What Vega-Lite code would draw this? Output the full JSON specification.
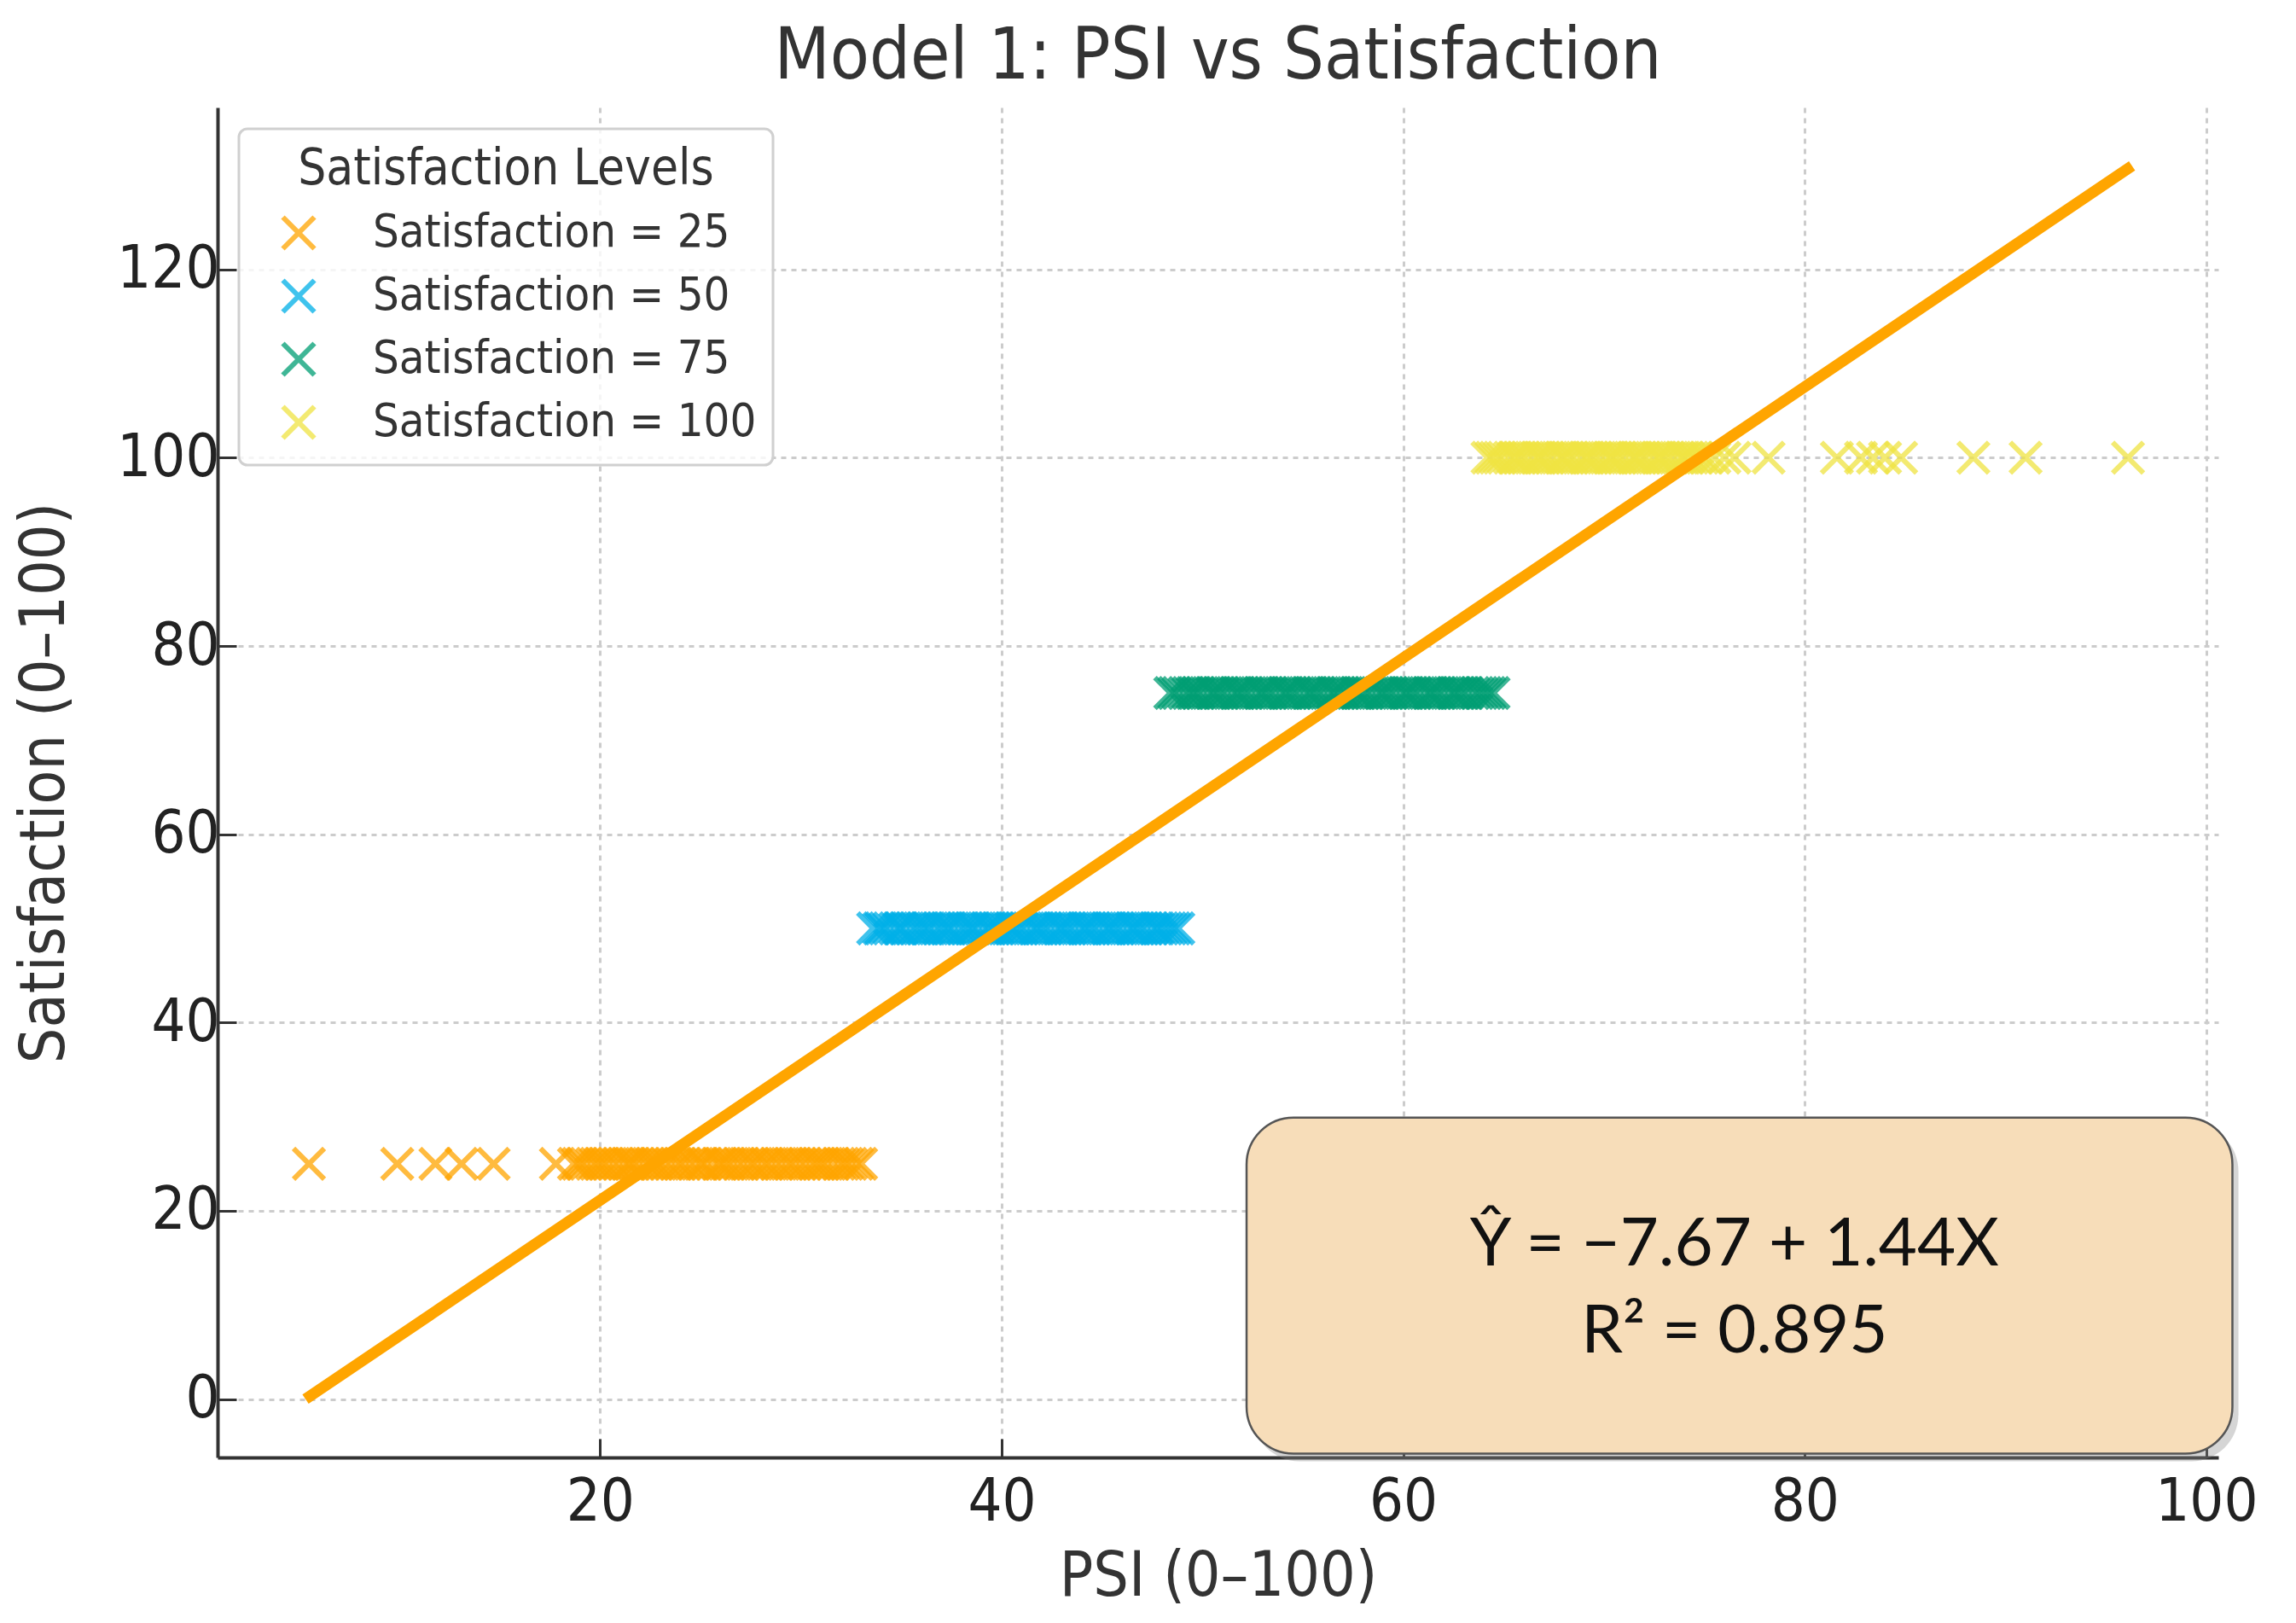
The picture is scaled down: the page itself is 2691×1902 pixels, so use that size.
{
  "$schema": "https://vega.github.io/schema/vega-lite/v6.json",
  "width": 2345,
  "height": 1582,
  "autosize": {"type": "none"},
  "padding": {"left": 255, "top": 126, "right": 91, "bottom": 194},
  "background": "white",
  "title": {
    "text": "Model 1: PSI vs Satisfaction",
    "fontSize": 84,
    "font": "'DejaVu Sans Condensed', 'DejaVu Sans', sans-serif",
    "fontWeight": "normal",
    "color": "#333333",
    "anchor": "middle",
    "baseline": "bottom",
    "offset": -68
  },
  "config": {
    "view": {"stroke": null},
    "font": "'DejaVu Sans Condensed', 'DejaVu Sans', sans-serif",
    "axis": {
      "labelFont": "'DejaVu Sans Condensed', 'DejaVu Sans', sans-serif",
      "titleFont": "'DejaVu Sans Condensed', 'DejaVu Sans', sans-serif",
      "labelFontSize": 70,
      "titleFontSize": 73,
      "labelColor": "#222222",
      "titleColor": "#333333",
      "titleFontWeight": "normal",
      "domainColor": "#333333",
      "domainWidth": 4,
      "tickColor": "#333333",
      "tickWidth": 3,
      "tickSize": -22,
      "gridColor": "#cccccc",
      "gridWidth": 3,
      "gridDash": [6, 6]
    },
    "axisX": {"labelPadding": 40, "titlePadding": 16},
    "axisY": {"labelPadding": 20, "titlePadding": 47},
    "legend": {
      "orient": "top-left",
      "offset": 25,
      "padding": 19,
      "strokeColor": "#d0d0d0",
      "strokeWidth": 3,
      "cornerRadius": 10,
      "fillColor": "rgba(255,255,255,0.8)",
      "titleFont": "'DejaVu Sans Condensed', 'DejaVu Sans', sans-serif",
      "titleFontSize": 58,
      "titleFontWeight": "normal",
      "titleColor": "#333333",
      "titleAnchor": "middle",
      "titleAlign": "center",
      "titlePadding": 18,
      "titleLimit": 2000,
      "labelFont": "'DejaVu Sans Condensed', 'DejaVu Sans', sans-serif",
      "labelFontSize": 54,
      "labelColor": "#333333",
      "labelOffset": 60,
      "labelLimit": 2000,
      "rowPadding": 12,
      "symbolOffset": 24,
      "symbolSize": 1369,
      "symbolStrokeWidth": 6
    }
  },
  "layer": [
    {
      "data": {
        "values": [
          {"psi": 5.5, "satisfaction": 25}, {"psi": 9.9, "satisfaction": 25}, {"psi": 11.8, "satisfaction": 25}, {"psi": 13.1, "satisfaction": 25}, {"psi": 14.7, "satisfaction": 25},
          {"psi": 17.8, "satisfaction": 25}, {"psi": 18.7, "satisfaction": 25}, {"psi": 18.9, "satisfaction": 25}, {"psi": 19.1, "satisfaction": 25}, {"psi": 19.3, "satisfaction": 25},
          {"psi": 19.6, "satisfaction": 25}, {"psi": 19.8, "satisfaction": 25}, {"psi": 20.0, "satisfaction": 25}, {"psi": 20.2, "satisfaction": 25}, {"psi": 20.4, "satisfaction": 25},
          {"psi": 20.7, "satisfaction": 25}, {"psi": 20.9, "satisfaction": 25}, {"psi": 21.2, "satisfaction": 25}, {"psi": 21.4, "satisfaction": 25}, {"psi": 21.5, "satisfaction": 25},
          {"psi": 21.7, "satisfaction": 25}, {"psi": 21.9, "satisfaction": 25}, {"psi": 22.2, "satisfaction": 25}, {"psi": 22.4, "satisfaction": 25}, {"psi": 22.6, "satisfaction": 25},
          {"psi": 22.8, "satisfaction": 25}, {"psi": 23.0, "satisfaction": 25}, {"psi": 23.3, "satisfaction": 25}, {"psi": 23.5, "satisfaction": 25}, {"psi": 23.8, "satisfaction": 25},
          {"psi": 24.0, "satisfaction": 25}, {"psi": 24.2, "satisfaction": 25}, {"psi": 24.5, "satisfaction": 25}, {"psi": 24.7, "satisfaction": 25}, {"psi": 25.0, "satisfaction": 25},
          {"psi": 25.1, "satisfaction": 25}, {"psi": 25.3, "satisfaction": 25}, {"psi": 25.6, "satisfaction": 25}, {"psi": 25.9, "satisfaction": 25}, {"psi": 26.0, "satisfaction": 25},
          {"psi": 26.2, "satisfaction": 25}, {"psi": 26.4, "satisfaction": 25}, {"psi": 26.6, "satisfaction": 25}, {"psi": 26.9, "satisfaction": 25}, {"psi": 27.1, "satisfaction": 25},
          {"psi": 27.4, "satisfaction": 25}, {"psi": 27.6, "satisfaction": 25}, {"psi": 27.8, "satisfaction": 25}, {"psi": 28.1, "satisfaction": 25}, {"psi": 28.3, "satisfaction": 25},
          {"psi": 28.5, "satisfaction": 25}, {"psi": 28.8, "satisfaction": 25}, {"psi": 29.0, "satisfaction": 25}, {"psi": 29.3, "satisfaction": 25}, {"psi": 29.5, "satisfaction": 25},
          {"psi": 29.7, "satisfaction": 25}, {"psi": 30.0, "satisfaction": 25}, {"psi": 30.2, "satisfaction": 25}, {"psi": 30.5, "satisfaction": 25}, {"psi": 30.7, "satisfaction": 25},
          {"psi": 30.9, "satisfaction": 25}, {"psi": 31.1, "satisfaction": 25}, {"psi": 31.3, "satisfaction": 25}, {"psi": 31.6, "satisfaction": 25}, {"psi": 31.9, "satisfaction": 25},
          {"psi": 32.1, "satisfaction": 25}, {"psi": 32.3, "satisfaction": 25}, {"psi": 32.5, "satisfaction": 25}, {"psi": 32.8, "satisfaction": 25}, {"psi": 33.0, "satisfaction": 25},
          {"psi": 33.6, "satisfaction": 50}, {"psi": 33.9, "satisfaction": 50}, {"psi": 34.0, "satisfaction": 50}, {"psi": 34.2, "satisfaction": 50}, {"psi": 34.4, "satisfaction": 50},
          {"psi": 34.7, "satisfaction": 50}, {"psi": 34.9, "satisfaction": 50}, {"psi": 35.0, "satisfaction": 50}, {"psi": 35.2, "satisfaction": 50}, {"psi": 35.5, "satisfaction": 50},
          {"psi": 35.7, "satisfaction": 50}, {"psi": 35.9, "satisfaction": 50}, {"psi": 36.1, "satisfaction": 50}, {"psi": 36.3, "satisfaction": 50}, {"psi": 36.4, "satisfaction": 50},
          {"psi": 36.7, "satisfaction": 50}, {"psi": 36.9, "satisfaction": 50}, {"psi": 37.1, "satisfaction": 50}, {"psi": 37.3, "satisfaction": 50}, {"psi": 37.4, "satisfaction": 50},
          {"psi": 37.6, "satisfaction": 50}, {"psi": 37.9, "satisfaction": 50}, {"psi": 38.1, "satisfaction": 50}, {"psi": 38.3, "satisfaction": 50}, {"psi": 38.5, "satisfaction": 50},
          {"psi": 38.6, "satisfaction": 50}, {"psi": 38.8, "satisfaction": 50}, {"psi": 39.1, "satisfaction": 50}, {"psi": 39.3, "satisfaction": 50}, {"psi": 39.4, "satisfaction": 50},
          {"psi": 39.6, "satisfaction": 50}, {"psi": 39.8, "satisfaction": 50}, {"psi": 40.0, "satisfaction": 50}, {"psi": 40.3, "satisfaction": 50}, {"psi": 40.5, "satisfaction": 50},
          {"psi": 40.6, "satisfaction": 50}, {"psi": 40.8, "satisfaction": 50}, {"psi": 41.0, "satisfaction": 50}, {"psi": 41.2, "satisfaction": 50}, {"psi": 41.5, "satisfaction": 50},
          {"psi": 41.7, "satisfaction": 50}, {"psi": 41.8, "satisfaction": 50}, {"psi": 42.0, "satisfaction": 50}, {"psi": 42.2, "satisfaction": 50}, {"psi": 42.4, "satisfaction": 50},
          {"psi": 42.7, "satisfaction": 50}, {"psi": 42.9, "satisfaction": 50}, {"psi": 43.0, "satisfaction": 50}, {"psi": 43.2, "satisfaction": 50}, {"psi": 43.4, "satisfaction": 50},
          {"psi": 43.6, "satisfaction": 50}, {"psi": 43.9, "satisfaction": 50}, {"psi": 44.1, "satisfaction": 50}, {"psi": 44.2, "satisfaction": 50}, {"psi": 44.4, "satisfaction": 50},
          {"psi": 44.6, "satisfaction": 50}, {"psi": 44.8, "satisfaction": 50}, {"psi": 45.1, "satisfaction": 50}, {"psi": 45.3, "satisfaction": 50}, {"psi": 45.4, "satisfaction": 50},
          {"psi": 45.6, "satisfaction": 50}, {"psi": 45.8, "satisfaction": 50}, {"psi": 46.0, "satisfaction": 50}, {"psi": 46.3, "satisfaction": 50}, {"psi": 46.5, "satisfaction": 50},
          {"psi": 46.6, "satisfaction": 50}, {"psi": 46.8, "satisfaction": 50}, {"psi": 47.0, "satisfaction": 50}, {"psi": 47.2, "satisfaction": 50}, {"psi": 47.5, "satisfaction": 50},
          {"psi": 47.7, "satisfaction": 50}, {"psi": 47.8, "satisfaction": 50}, {"psi": 48.0, "satisfaction": 50}, {"psi": 48.2, "satisfaction": 50}, {"psi": 48.4, "satisfaction": 50},
          {"psi": 48.6, "satisfaction": 50}, {"psi": 48.8, "satisfaction": 50},
          {"psi": 48.4, "satisfaction": 75}, {"psi": 48.6, "satisfaction": 75}, {"psi": 48.8, "satisfaction": 75}, {"psi": 49.1, "satisfaction": 75}, {"psi": 49.3, "satisfaction": 75},
          {"psi": 49.5, "satisfaction": 75}, {"psi": 49.6, "satisfaction": 75}, {"psi": 49.8, "satisfaction": 75}, {"psi": 50.0, "satisfaction": 75}, {"psi": 50.3, "satisfaction": 75},
          {"psi": 50.5, "satisfaction": 75}, {"psi": 50.6, "satisfaction": 75}, {"psi": 50.8, "satisfaction": 75}, {"psi": 51.0, "satisfaction": 75}, {"psi": 51.2, "satisfaction": 75},
          {"psi": 51.5, "satisfaction": 75}, {"psi": 51.7, "satisfaction": 75}, {"psi": 51.8, "satisfaction": 75}, {"psi": 52.0, "satisfaction": 75}, {"psi": 52.2, "satisfaction": 75},
          {"psi": 52.4, "satisfaction": 75}, {"psi": 52.7, "satisfaction": 75}, {"psi": 52.9, "satisfaction": 75}, {"psi": 53.0, "satisfaction": 75}, {"psi": 53.2, "satisfaction": 75},
          {"psi": 53.4, "satisfaction": 75}, {"psi": 53.6, "satisfaction": 75}, {"psi": 53.9, "satisfaction": 75}, {"psi": 54.1, "satisfaction": 75}, {"psi": 54.2, "satisfaction": 75},
          {"psi": 54.4, "satisfaction": 75}, {"psi": 54.6, "satisfaction": 75}, {"psi": 54.8, "satisfaction": 75}, {"psi": 55.1, "satisfaction": 75}, {"psi": 55.3, "satisfaction": 75},
          {"psi": 55.4, "satisfaction": 75}, {"psi": 55.6, "satisfaction": 75}, {"psi": 55.8, "satisfaction": 75}, {"psi": 56.0, "satisfaction": 75}, {"psi": 56.3, "satisfaction": 75},
          {"psi": 56.5, "satisfaction": 75}, {"psi": 56.6, "satisfaction": 75}, {"psi": 56.8, "satisfaction": 75}, {"psi": 57.0, "satisfaction": 75}, {"psi": 57.2, "satisfaction": 75},
          {"psi": 57.5, "satisfaction": 75}, {"psi": 57.7, "satisfaction": 75}, {"psi": 57.8, "satisfaction": 75}, {"psi": 58.0, "satisfaction": 75}, {"psi": 58.2, "satisfaction": 75},
          {"psi": 58.4, "satisfaction": 75}, {"psi": 58.7, "satisfaction": 75}, {"psi": 58.9, "satisfaction": 75}, {"psi": 59.0, "satisfaction": 75}, {"psi": 59.2, "satisfaction": 75},
          {"psi": 59.4, "satisfaction": 75}, {"psi": 59.6, "satisfaction": 75}, {"psi": 59.9, "satisfaction": 75}, {"psi": 60.1, "satisfaction": 75}, {"psi": 60.2, "satisfaction": 75},
          {"psi": 60.4, "satisfaction": 75}, {"psi": 60.6, "satisfaction": 75}, {"psi": 60.8, "satisfaction": 75}, {"psi": 61.1, "satisfaction": 75}, {"psi": 61.3, "satisfaction": 75},
          {"psi": 61.4, "satisfaction": 75}, {"psi": 61.6, "satisfaction": 75}, {"psi": 61.8, "satisfaction": 75}, {"psi": 62.0, "satisfaction": 75}, {"psi": 62.3, "satisfaction": 75},
          {"psi": 62.5, "satisfaction": 75}, {"psi": 62.6, "satisfaction": 75}, {"psi": 62.8, "satisfaction": 75}, {"psi": 63.0, "satisfaction": 75}, {"psi": 63.2, "satisfaction": 75},
          {"psi": 63.5, "satisfaction": 75}, {"psi": 63.7, "satisfaction": 75}, {"psi": 63.9, "satisfaction": 75}, {"psi": 64.1, "satisfaction": 75}, {"psi": 64.3, "satisfaction": 75},
          {"psi": 64.5, "satisfaction": 75},
          {"psi": 64.2, "satisfaction": 100}, {"psi": 64.4, "satisfaction": 100}, {"psi": 64.6, "satisfaction": 100}, {"psi": 64.8, "satisfaction": 100}, {"psi": 65.0, "satisfaction": 100},
          {"psi": 65.3, "satisfaction": 100}, {"psi": 65.5, "satisfaction": 100}, {"psi": 65.6, "satisfaction": 100}, {"psi": 65.8, "satisfaction": 100}, {"psi": 66.0, "satisfaction": 100},
          {"psi": 66.2, "satisfaction": 100}, {"psi": 66.5, "satisfaction": 100}, {"psi": 66.7, "satisfaction": 100}, {"psi": 66.8, "satisfaction": 100}, {"psi": 67.0, "satisfaction": 100},
          {"psi": 67.2, "satisfaction": 100}, {"psi": 67.4, "satisfaction": 100}, {"psi": 67.7, "satisfaction": 100}, {"psi": 67.9, "satisfaction": 100}, {"psi": 68.0, "satisfaction": 100},
          {"psi": 68.2, "satisfaction": 100}, {"psi": 68.4, "satisfaction": 100}, {"psi": 68.6, "satisfaction": 100}, {"psi": 68.9, "satisfaction": 100}, {"psi": 69.1, "satisfaction": 100},
          {"psi": 69.2, "satisfaction": 100}, {"psi": 69.4, "satisfaction": 100}, {"psi": 69.6, "satisfaction": 100}, {"psi": 69.8, "satisfaction": 100}, {"psi": 70.1, "satisfaction": 100},
          {"psi": 70.3, "satisfaction": 100}, {"psi": 70.4, "satisfaction": 100}, {"psi": 70.6, "satisfaction": 100}, {"psi": 70.8, "satisfaction": 100}, {"psi": 71.0, "satisfaction": 100},
          {"psi": 71.3, "satisfaction": 100}, {"psi": 71.5, "satisfaction": 100}, {"psi": 71.6, "satisfaction": 100}, {"psi": 71.8, "satisfaction": 100}, {"psi": 72.0, "satisfaction": 100},
          {"psi": 72.2, "satisfaction": 100}, {"psi": 72.5, "satisfaction": 100}, {"psi": 72.7, "satisfaction": 100}, {"psi": 72.8, "satisfaction": 100}, {"psi": 73.0, "satisfaction": 100},
          {"psi": 73.2, "satisfaction": 100}, {"psi": 73.4, "satisfaction": 100}, {"psi": 73.7, "satisfaction": 100}, {"psi": 73.9, "satisfaction": 100}, {"psi": 74.0, "satisfaction": 100},
          {"psi": 74.2, "satisfaction": 100}, {"psi": 74.4, "satisfaction": 100}, {"psi": 74.6, "satisfaction": 100}, {"psi": 74.9, "satisfaction": 100}, {"psi": 75.1, "satisfaction": 100},
          {"psi": 75.5, "satisfaction": 100}, {"psi": 76.0, "satisfaction": 100}, {"psi": 76.5, "satisfaction": 100}, {"psi": 78.2, "satisfaction": 100}, {"psi": 81.6, "satisfaction": 100},
          {"psi": 82.8, "satisfaction": 100}, {"psi": 83.4, "satisfaction": 100}, {"psi": 84.0, "satisfaction": 100}, {"psi": 84.8, "satisfaction": 100}, {"psi": 88.4, "satisfaction": 100},
          {"psi": 91.0, "satisfaction": 100}, {"psi": 96.1, "satisfaction": 100}
        ]
      },
      "mark": {
        "type": "point",
        "shape": "M-1,-1L1,1M-1,1L1,-1",
        "filled": false,
        "strokeWidth": 6,
        "size": 1300,
        "opacity": 0.75
      },
      "encoding": {
        "x": {
          "field": "psi",
          "type": "quantitative",
          "title": "PSI (0–100)",
          "scale": {"domain": [0.95, 100.6], "nice": false, "zero": false},
          "axis": {"values": [20, 40, 60, 80, 100], "grid": true}
        },
        "y": {
          "field": "satisfaction",
          "type": "quantitative",
          "title": "Satisfaction (0–100)",
          "scale": {"domain": [-6.2, 137.2], "nice": false, "zero": false},
          "axis": {"values": [0, 20, 40, 60, 80, 100, 120], "grid": true}
        },
        "color": {
          "field": "satisfaction",
          "type": "nominal",
          "scale": {
            "domain": [25, 50, 75, 100],
            "range": ["#FFA500", "#00B0E8", "#009E73", "#F0E442"]
          },
          "legend": {
            "title": "Satisfaction Levels",
            "labelExpr": "'Satisfaction = ' + datum.label",
            "symbolType": "M-1,-1L1,1M-1,1L1,-1"
          }
        }
      }
    },
    {
      "data": {"values": [{"psi": 5.33, "satisfaction": 0}, {"psi": 96.3, "satisfaction": 131}]},
      "mark": {"type": "line", "color": "#FFA500", "strokeWidth": 13, "strokeCap": "butt"},
      "encoding": {
        "x": {"field": "psi", "type": "quantitative", "title": "PSI (0–100)"},
        "y": {"field": "satisfaction", "type": "quantitative", "title": "Satisfaction (0–100)"}
      }
    },
    {
      "data": {"values": [{}]},
      "mark": {"type": "rect", "fill": "#888888", "opacity": 0.35, "cornerRadius": 55},
      "encoding": {
        "x": {"datum": 52.5, "title": "PSI (0–100)"},
        "x2": {"datum": 101.6},
        "y": {"datum": 29.2, "title": "Satisfaction (0–100)"},
        "y2": {"datum": -6.6}
      }
    },
    {
      "data": {"values": [{}]},
      "mark": {"type": "rect", "fill": "#F7DDB9", "stroke": "#555555", "strokeWidth": 2.5, "cornerRadius": 55},
      "encoding": {
        "x": {"datum": 52.2, "title": "PSI (0–100)"},
        "x2": {"datum": 101.3},
        "y": {"datum": 29.9, "title": "Satisfaction (0–100)"},
        "y2": {"datum": -5.8}
      }
    },
    {
      "data": {"values": [{}]},
      "mark": {"type": "text", "font": "Lato", "fontSize": 78, "color": "#111111", "align": "center", "baseline": "middle"},
      "encoding": {
        "x": {"datum": 76.5, "title": "PSI (0–100)"},
        "y": {"datum": 16.3, "title": "Satisfaction (0–100)"},
        "text": {"value": "Ŷ = −7.67 + 1.44X"}
      }
    },
    {
      "data": {"values": [{}]},
      "mark": {"type": "text", "font": "Lato", "fontSize": 78, "color": "#111111", "align": "center", "baseline": "middle"},
      "encoding": {
        "x": {"datum": 76.5, "title": "PSI (0–100)"},
        "y": {"datum": 7.0, "title": "Satisfaction (0–100)"},
        "text": {"value": "R² = 0.895"}
      }
    }
  ]
}
